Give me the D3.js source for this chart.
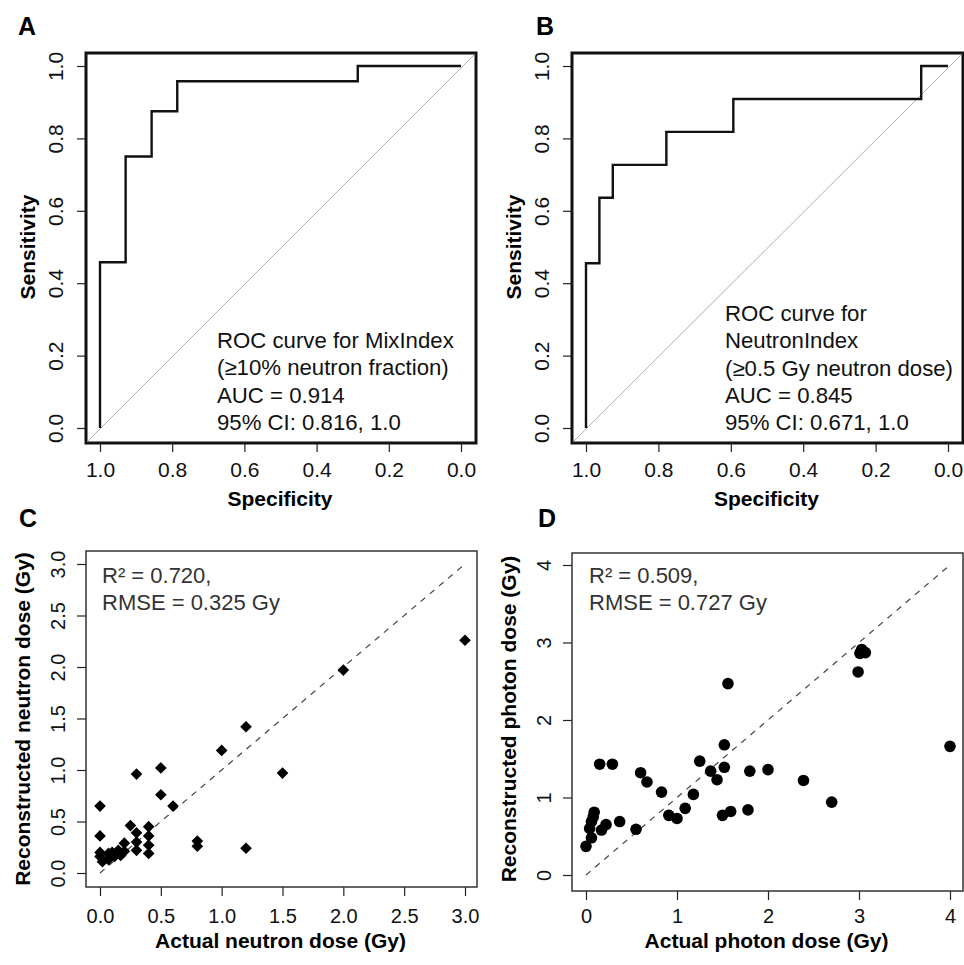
<!DOCTYPE html>
<html>
<head>
<meta charset="utf-8">
<script src="https://cdn.jsdelivr.net/npm/d3@7"></script>
<style>
  body { margin: 0; background: #fff; }
  svg { display: block; font-family: "Liberation Sans", Arial, Helvetica, sans-serif; }
</style>
</head>
<body>
<div id="chart"></div>
<script>
// ROC A - MixIndex
var specA = [1.000, 1.000, 0.929, 0.929, 0.857, 0.857, 0.786, 0.786, 0.286, 0.286, 0.000];
var sensA = [0.000, 0.458, 0.458, 0.750, 0.750, 0.875, 0.875, 0.958, 0.958, 1.000, 1.000];
var textA = ["ROC curve for MixIndex", "(\u226510% neutron fraction)", "AUC = 0.914", "95% CI: 0.816, 1.0"];

// ROC B - NeutronIndex
var specB = [1.000, 1.000, 0.963, 0.963, 0.926, 0.926, 0.778, 0.778, 0.593, 0.593, 0.074, 0.074, 0.000];
var sensB = [0.000, 0.455, 0.455, 0.636, 0.636, 0.727, 0.727, 0.818, 0.818, 0.909, 0.909, 1.000, 1.000];
var textB = ["ROC curve for", "NeutronIndex", "(\u22650.5 Gy neutron dose)", "AUC = 0.845", "95% CI: 0.671, 1.0"];

var rocTicks = [0, 0.2, 0.4, 0.6, 0.8, 1.0];

// C - neutron dose
var neutronActual = [0, 0, 0, 0, 0.02, 0.07, 0.07, 0.10, 0.12, 0.15, 0.17, 0.20, 0.20, 0.25, 0.30, 0.30, 0.30, 0.40, 0.40, 0.40, 0.40, 0.30, 0.50, 0.50, 0.60, 0.80, 0.80, 1.00, 1.20, 1.20, 1.50, 2.00, 3.00];
var neutronRecon  = [0.65, 0.36, 0.20, 0.16, 0.11, 0.19, 0.13, 0.20, 0.16, 0.22, 0.17, 0.29, 0.21, 0.46, 0.39, 0.30, 0.22, 0.45, 0.36, 0.27, 0.19, 0.96, 1.02, 0.76, 0.65, 0.31, 0.26, 1.19, 1.42, 0.24, 0.97, 1.97, 2.26];
var neutronTicks = [0, 0.5, 1.0, 1.5, 2.0, 2.5, 3.0];
var textC = ["R\u00b2 = 0.720,", "RMSE = 0.325 Gy"];

// D - photon dose
var photonActual = [0, 0.06, 0.04, 0.06, 0.08, 0.09, 0.17, 0.22, 0.15, 0.29, 0.37, 0.55, 0.60, 0.67, 0.83, 0.91, 1.00, 1.09, 1.18, 1.25, 1.37, 1.44, 1.52, 1.52, 1.56, 1.50, 1.59, 1.78, 1.80, 2.00, 2.39, 2.70, 2.99, 3.01, 3.03, 3.07, 4.00];
var photonRecon  = [0.37, 0.48, 0.60, 0.69, 0.75, 0.81, 0.58, 0.65, 1.43, 1.43, 0.69, 0.59, 1.32, 1.20, 1.07, 0.77, 0.73, 0.86, 1.04, 1.47, 1.34, 1.23, 1.39, 1.68, 2.47, 0.77, 0.82, 0.84, 1.34, 1.36, 1.22, 0.94, 2.62, 2.86, 2.91, 2.87, 1.66];
var photonTicks = [0, 1, 2, 3, 4];
var textD = ["R\u00b2 = 0.509,", "RMSE = 0.727 Gy"];

var W = 964, H = 965;
var svg = d3.select("#chart").append("svg")
  .attr("width", W).attr("height", H);
svg.append("rect").attr("width", W).attr("height", H).attr("fill", "#fff");

// draws box, ticks, tick labels and titles for one panel
function frame(p) {
  var g = svg.append("g");
  var xAxis = d3.axisBottom(p.x).tickValues(p.xTicks).tickSize(p.tick).tickFormat(p.fmt);
  var yAxis = d3.axisLeft(p.y).tickValues(p.yTicks).tickSize(p.tick).tickFormat(p.fmt);

  var gx = g.append("g").attr("transform", "translate(0," + p.box.b + ")").call(xAxis);
  var gy = g.append("g").attr("transform", "translate(" + p.box.l + ",0)").call(yAxis);
  [gx, gy].forEach(function(a) {
    a.select(".domain").remove();
    a.selectAll("line").attr("stroke", "#222").attr("stroke-width", 1.2);
    a.selectAll("text").attr("fill", "#111").style("font-size", p.fs + "px");
  });
  gx.selectAll("text").attr("y", p.xLab).attr("dy", 0);
  gy.selectAll("text").attr("x", 0).attr("dy", 0).attr("text-anchor", "middle")
    .attr("transform", "translate(" + (-p.yLab) + ",0) rotate(-90)");

  g.append("rect")
    .attr("x", p.box.l).attr("y", p.box.t)
    .attr("width", p.box.r - p.box.l).attr("height", p.box.b - p.box.t)
    .attr("fill", "none").attr("stroke", p.boxColor).attr("stroke-width", p.boxWidth);

  g.append("text").attr("x", p.xTitle[0]).attr("y", p.xTitle[1])
    .attr("text-anchor", "middle").attr("font-weight", "bold").style("font-size", "21px")
    .text(p.xLabel);
  g.append("text")
    .attr("transform", "translate(" + p.yTitle[0] + "," + p.yTitle[1] + ") rotate(-90)")
    .attr("text-anchor", "middle").attr("font-weight", "bold").style("font-size", "21px")
    .text(p.yLabel);
  g.append("text").attr("x", p.letter[0]).attr("y", p.letter[1])
    .attr("font-weight", "bold").style("font-size", "25px").text(p.name);

  g.append("g").selectAll("text").data(p.notes).enter().append("text")
    .attr("x", p.note[0]).attr("y", function(d, i) { return p.note[1] + i * p.note[2]; })
    .attr("fill", p.noteColor).style("font-size", p.noteSize + "px")
    .text(function(d) { return d; });
  return g;
}

function rocPanel(o) {
  var x = d3.scaleLinear().domain([1, 0]).range(o.xr);
  var y = d3.scaleLinear().domain([0, 1]).range([428, 66]);
  var box = { l: o.bl, r: o.br, t: 53, b: 443 };
  var g = frame({
    name: o.name, x: x, y: y, box: box, xTicks: rocTicks, yTicks: rocTicks,
    fmt: d3.format(".1f"), tick: 9, fs: 21, xLab: 33.5, yLab: 23,
    boxColor: "#111", boxWidth: 3,
    xLabel: "Specificity", yLabel: "Sensitivity",
    xTitle: [(box.l + box.r) / 2 - 1, 506], yTitle: [o.bl - 51, 247],
    letter: o.letter, notes: o.notes, note: o.note, noteColor: "#111", noteSize: 22.2
  });
  // chance diagonal across the box
  g.append("line")
    .attr("x1", box.l + 1.5).attr("y1", box.b - 1.5)
    .attr("x2", box.r - 1.5).attr("y2", box.t + 1.5)
    .attr("stroke", "#b0b0b0").attr("stroke-width", 1);
  var line = d3.line()
    .x(function(d) { return x(d[0]); })
    .y(function(d) { return y(d[1]); });
  g.append("path")
    .datum(d3.zip(o.spec, o.sens))
    .attr("d", line)
    .attr("fill", "none").attr("stroke", "#111").attr("stroke-width", 2.4)
    .attr("stroke-linejoin", "miter");
}

rocPanel({ name: "A", spec: specA, sens: sensA, xr: [100, 461], bl: 86, br: 476,
  letter: [18, 35], notes: textA, note: [217, 348, 27.3] });
rocPanel({ name: "B", spec: specB, sens: sensB, xr: [586, 948], bl: 572, br: 963,
  letter: [536, 35], notes: textB, note: [725, 321, 27.3] });

function scatterPanel(o) {
  var x = d3.scaleLinear().domain([0, o.max]).range(o.xr);
  var y = d3.scaleLinear().domain([0, o.max]).range(o.yr);
  var g = frame({
    name: o.name, x: x, y: y, box: o.box, xTicks: o.ticks, yTicks: o.ticks,
    fmt: o.fmt, tick: 9, fs: 20, xLab: 923 - o.box.b, yLab: 21,
    boxColor: "#333", boxWidth: 1.5,
    xLabel: o.xLabel, yLabel: o.yLabel,
    xTitle: [(o.box.l + o.box.r) / 2 - 1, 948], yTitle: [o.box.l - 56, 719],
    letter: o.letter, notes: o.notes, note: o.note, noteColor: "#333", noteSize: 22
  });
  g.append("line")
    .attr("x1", x(0)).attr("y1", y(0)).attr("x2", x(o.max)).attr("y2", y(o.max))
    .attr("stroke", "#444").attr("stroke-width", 1.2).attr("stroke-dasharray", "6,6");
  var pts = d3.zip(o.xs, o.ys);
  if (o.diamond) {
    g.append("g").selectAll("path").data(pts).enter().append("path")
      .attr("d", d3.symbol(d3.symbolSquare, 68))
      .attr("transform", function(d) { return "translate(" + x(d[0]) + "," + y(d[1]) + ") rotate(45)"; })
      .attr("fill", "#000");
  } else {
    g.append("g").selectAll("circle").data(pts).enter().append("circle")
      .attr("cx", function(d) { return x(d[0]); })
      .attr("cy", function(d) { return y(d[1]); })
      .attr("r", 5.8).attr("fill", "#000");
  }
}

scatterPanel({ name: "C", xs: neutronActual, ys: neutronRecon, max: 3, ticks: neutronTicks,
  fmt: d3.format(".1f"), xr: [100, 465], yr: [873, 564], box: { l: 86, r: 477, t: 551, b: 887 },
  xLabel: "Actual neutron dose (Gy)", yLabel: "Reconstructed neutron dose (Gy)",
  letter: [19, 527], notes: textC, note: [102, 583, 27], diamond: true });
scatterPanel({ name: "D", xs: photonActual, ys: photonRecon, max: 4, ticks: photonTicks,
  fmt: d3.format("d"), xr: [586, 950], yr: [875, 565], box: { l: 572, r: 963, t: 553, b: 891 },
  xLabel: "Actual photon dose (Gy)", yLabel: "Reconstructed photon dose (Gy)",
  letter: [538, 527], notes: textD, note: [589, 583, 27], diamond: false });
</script>
</body>
</html>
